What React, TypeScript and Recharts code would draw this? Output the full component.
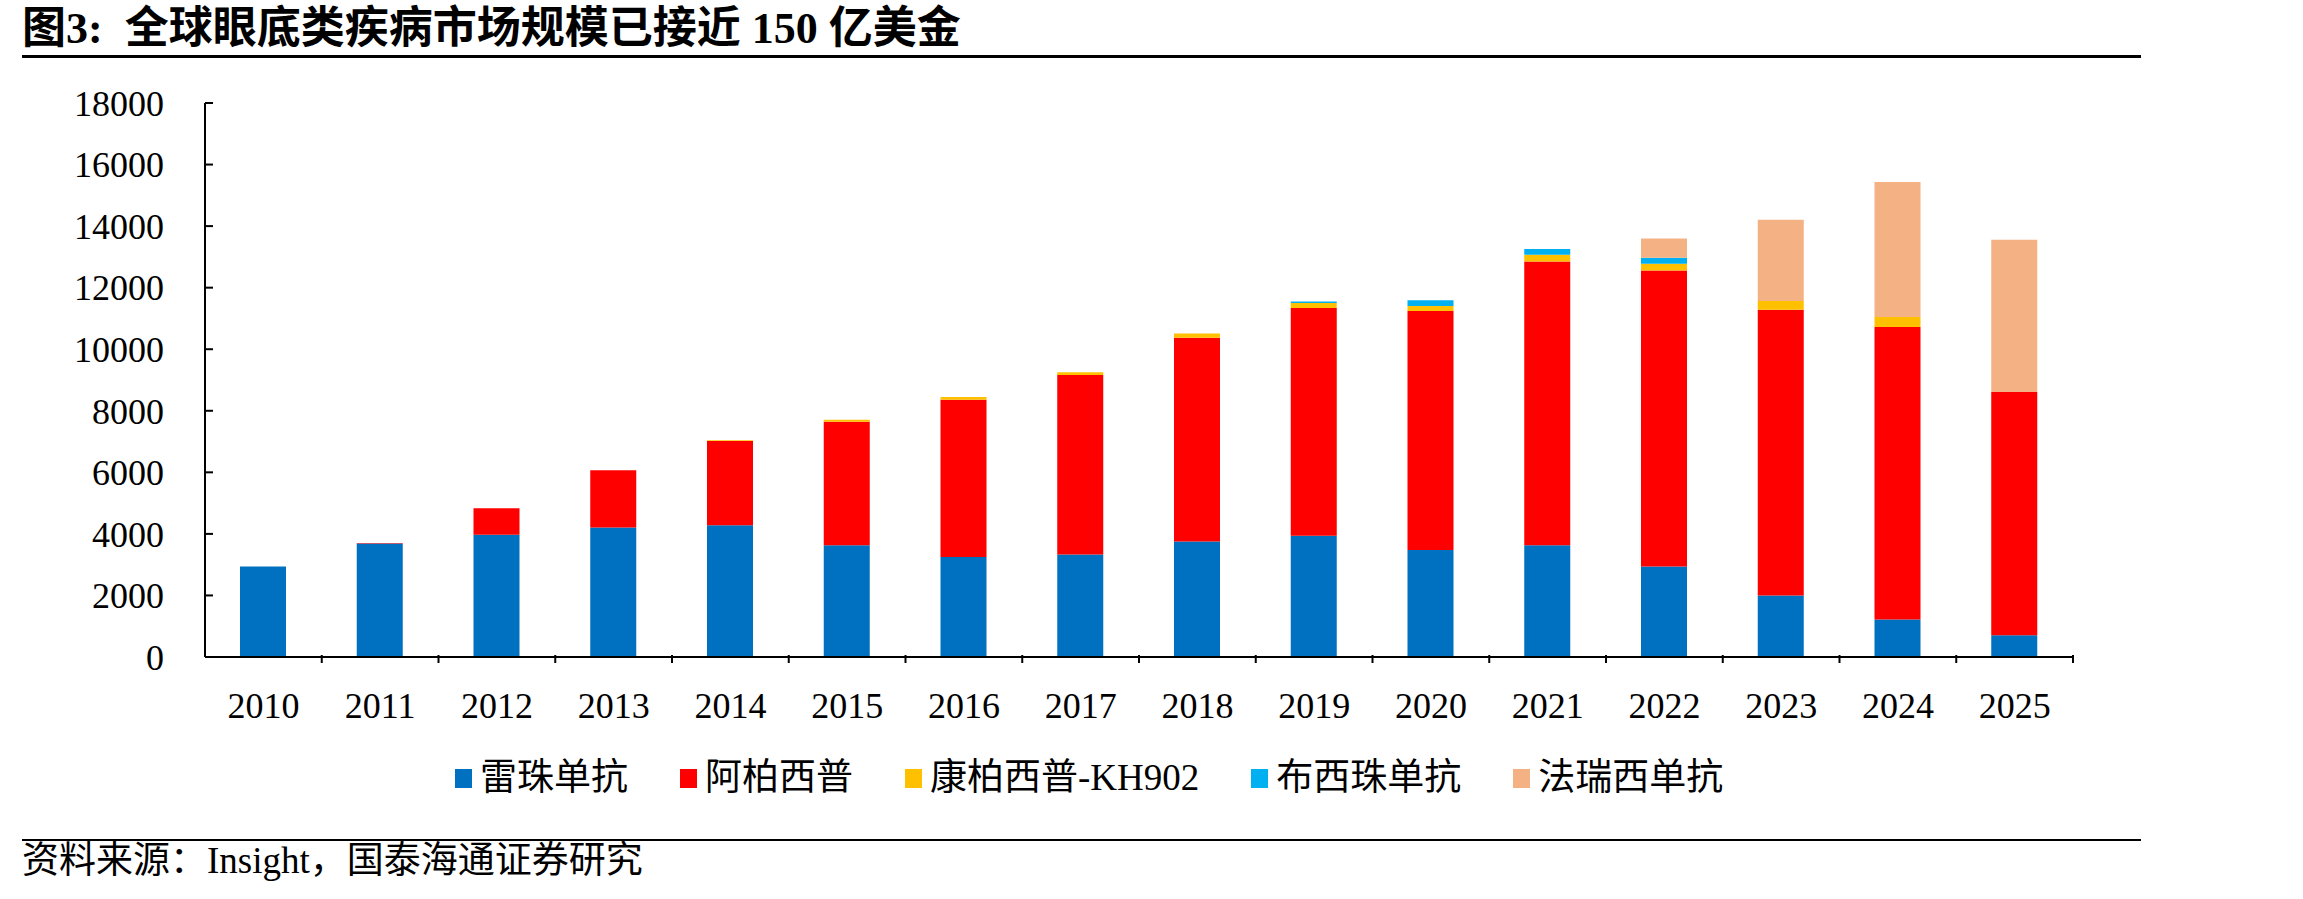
import { BarChart, Bar, XAxis, YAxis } from "recharts";

// categories
const years = ["2010", "2011", "2012", "2013", "2014", "2015", "2016", "2017", "2018", "2019", "2020", "2021", "2022", "2023", "2024", "2025"];

// series values
const ranibizumab = [2940, 3690, 3970, 4210, 4280, 3630, 3250, 3330, 3750, 3940, 3480, 3630, 2940, 2000, 1220, 710];
const aflibercept = [0, 15, 860, 1860, 2740, 4010, 5110, 5830, 6620, 7400, 7760, 9220, 9620, 9280, 9505, 7900];
const conbercept = [0, 0, 0, 0, 20, 65, 90, 90, 140, 165, 165, 220, 220, 290, 325, 0];
const brolucizumab = [0, 0, 0, 0, 0, 0, 0, 0, 0, 45, 185, 185, 195, 0, 0, 0];
const faricimab = [0, 0, 0, 0, 0, 0, 0, 0, 0, 0, 0, 0, 620, 2635, 4380, 4945];

const yTicks = [0, 2000, 4000, 6000, 8000, 10000, 12000, 14000, 16000, 18000];

const seriesKeys = ["ranibizumab", "aflibercept", "conbercept", "brolucizumab", "faricimab"];
const seriesNames = ["雷珠单抗", "阿柏西普", "康柏西普-KH902", "布西珠单抗", "法瑞西单抗"];
const seriesColors = ["#0070C0", "#FF0000", "#FFC000", "#00B0F0", "#F4B183"];

const data = years.map((year, i) => ({
  year,
  ranibizumab: ranibizumab[i],
  aflibercept: aflibercept[i],
  conbercept: conbercept[i],
  brolucizumab: brolucizumab[i],
  faricimab: faricimab[i],
}));

const FONT = "'Liberation Serif', 'Noto Sans CJK SC', serif";

const CHART_W = 2303;
const CHART_H = 760;
const MARGIN = { top: 103, right: 230, left: 0, bottom: 43 };
const Y_AXIS_W = 205;
const X_TICK_MARGIN = 29;
const band = (CHART_W - MARGIN.left - MARGIN.right - Y_AXIS_W) / years.length;

// x labels at the centre, small inward tick at the category boundary
const XTick = (props: any) => {
  const { x, y, payload } = props;
  const axisY = y - X_TICK_MARGIN;
  return (
    <g>
      <line x1={x + band / 2} x2={x + band / 2} y1={axisY} y2={axisY - 8} stroke="#000" strokeWidth={2} />
      <text x={x} y={y} dy="0.71em" textAnchor="middle" fontSize={36} fontFamily={FONT} fill="#000">
        {payload.value}
      </text>
    </g>
  );
};

export default function App() {
  return (
    <div
      style={{
        position: "absolute",
        left: 0,
        top: 0,
        width: 2303,
        height: 899,
        background: "#fff",
        fontFamily: FONT,
        color: "#000",
      }}
    >
      <div
        style={{
          position: "absolute",
          left: 22,
          top: 7,
          fontSize: 44,
          lineHeight: "44px",
          fontWeight: "bold",
          whiteSpace: "pre",
        }}
      >
        {"图3:  全球眼底类疾病市场规模已接近 150 亿美金"}
      </div>
      <div style={{ position: "absolute", left: 22, top: 55, width: 2119, height: 3, background: "#000" }} />

      <div style={{ position: "absolute", left: 0, top: 0 }}>
        <BarChart width={CHART_W} height={CHART_H} data={data} margin={MARGIN} barSize={46}>
          <XAxis
            dataKey="year"
            height={60}
            axisLine={{ stroke: "#000", strokeWidth: 2 }}
            tickLine={false}
            tickMargin={X_TICK_MARGIN}
            tick={<XTick />}
            interval={0}
          />
          <YAxis
            width={Y_AXIS_W}
            domain={[0, 18000]}
            ticks={yTicks}
            interval={0}
            stroke="#000"
            axisLine={{ stroke: "#000", strokeWidth: 2 }}
            tickLine={{ stroke: "#000", strokeWidth: 2 }}
            tickSize={-8}
            tickMargin={49}
            tick={{ fontSize: 36, fontFamily: FONT, fill: "#000" }}
          />
          {seriesKeys.map((k, i) => (
            <Bar
              key={k}
              dataKey={k}
              name={seriesNames[i]}
              stackId="a"
              fill={seriesColors[i]}
              isAnimationActive={false}
            />
          ))}
        </BarChart>
      </div>

      <div
        style={{
          position: "absolute",
          left: 455,
          top: 759,
          display: "flex",
          alignItems: "center",
          gap: 52,
          fontSize: 37,
          lineHeight: "38px",
          whiteSpace: "nowrap",
        }}
      >
        {seriesNames.map((name, i) => (
          <div key={name} style={{ display: "flex", alignItems: "center" }}>
            <span style={{ display: "inline-block", width: 17, height: 19, background: seriesColors[i], marginRight: 8 }} />
            <span>{name}</span>
          </div>
        ))}
      </div>

      <div style={{ position: "absolute", left: 22, top: 839, width: 2119, height: 2, background: "#000" }} />
      <div style={{ position: "absolute", left: 22, top: 842, fontSize: 37, lineHeight: "38px", whiteSpace: "pre" }}>
        资料来源：Insight，国泰海通证券研究
      </div>
    </div>
  );
}
